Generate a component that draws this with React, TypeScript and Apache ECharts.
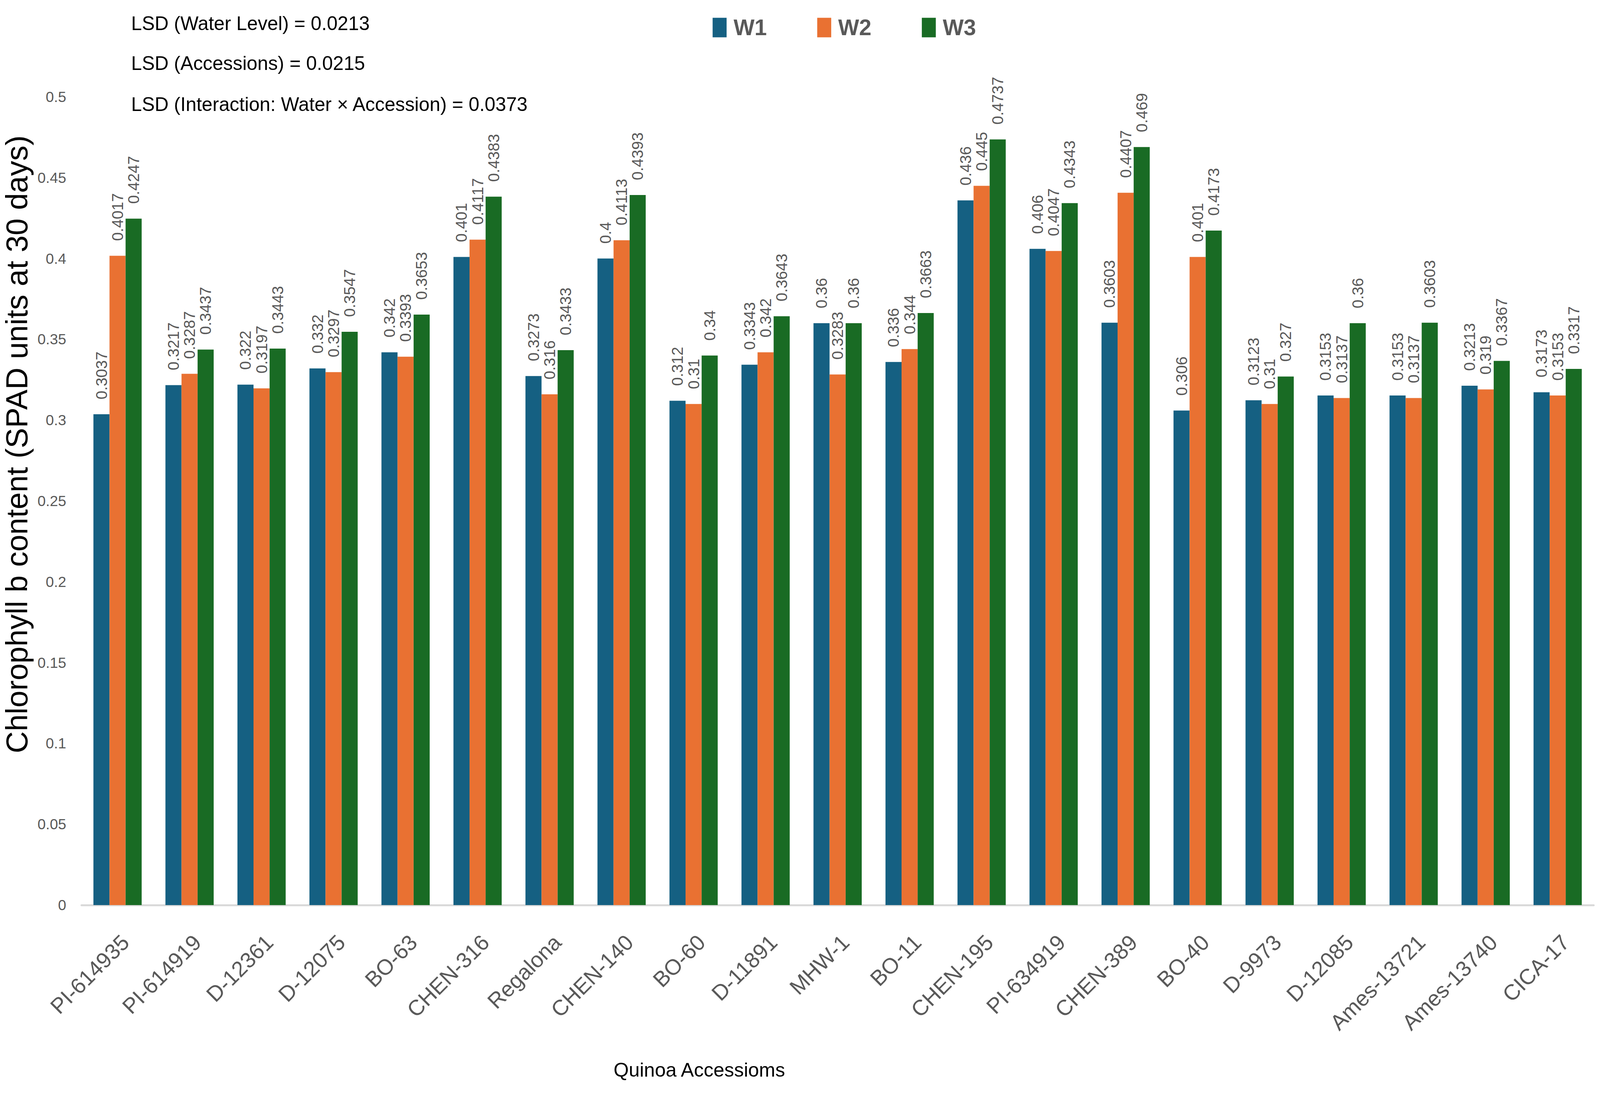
import React, { useEffect, useRef, useState } from "react";
import * as echarts from "echarts";

const categories = [
  "PI-614935", "PI-614919", "D-12361", "D-12075", "BO-63", "CHEN-316", "Regalona",
  "CHEN-140", "BO-60", "D-11891", "MHW-1", "BO-11", "CHEN-195", "PI-634919",
  "CHEN-389", "BO-40", "D-9973", "D-12085", "Ames-13721", "Ames-13740", "CICA-17",
];
const w1 = [0.3037, 0.3217, 0.322, 0.332, 0.342, 0.401, 0.3273, 0.4, 0.312, 0.3343, 0.36, 0.336, 0.436, 0.406, 0.3603, 0.306, 0.3123, 0.3153, 0.3153, 0.3213, 0.3173];
const w2 = [0.4017, 0.3287, 0.3197, 0.3297, 0.3393, 0.4117, 0.316, 0.4113, 0.31, 0.342, 0.3283, 0.344, 0.445, 0.4047, 0.4407, 0.401, 0.31, 0.3137, 0.3137, 0.319, 0.3153];
const w3 = [0.4247, 0.3437, 0.3443, 0.3547, 0.3653, 0.4383, 0.3433, 0.4393, 0.34, 0.3643, 0.36, 0.3663, 0.4737, 0.4343, 0.469, 0.4173, 0.327, 0.36, 0.3603, 0.3367, 0.3317];
const seriesNames = ["W1", "W2", "W3"];
const seriesColors = ["#156082", "#E97132", "#196B24"];
const lsdLines = [
  "LSD (Water Level) = 0.0213",
  "LSD (Accessions) = 0.0215",
  "LSD (Interaction: Water \u00d7 Accession) = 0.0373",
];
const yTitle = "Chlorophyll b content (SPAD units at 30 days)";
const xTitle = "Quinoa Accessioms";

const FONT = "'Liberation Sans', Arial, sans-serif";
const REF_W = 6063;
const REF_H = 2802;

export default function App() {
  const ref = useRef<HTMLDivElement>(null);
  const [size] = useState(() => {
    const w = window.innerWidth || REF_W;
    const h = window.innerHeight || REF_H;
    return { w, h, sx: w / REF_W, sy: h / REF_H };
  });
  useEffect(() => {
    document.body.style.margin = "0";
    document.body.style.overflow = "hidden";
    const { sx, sy } = size;
    const px = (v: number) => v * sx;
    const py = (v: number) => v * sy;
    const fm = (v: number) => v * Math.sqrt(sx * sy);
    const chart = echarts.init(ref.current!, undefined, { renderer: "svg" });
    const data = [w1, w2, w3];
    const lsdY = [59, 161, 266];
    chart.setOption({
      animation: false,
      backgroundColor: "#ffffff",
      textStyle: { fontFamily: FONT },
      grid: { left: px(309), right: px(24), top: py(248), bottom: py(486), containLabel: false },
      legend: {
        data: seriesNames,
        left: px(2693),
        top: py(37),
        icon: "rect",
        itemWidth: px(53),
        itemHeight: py(50),
        itemGap: px(191),
        textStyle: { fontSize: px(84), fontWeight: "bold", color: "#595959", fontFamily: FONT, padding: [0, 0, 0, px(19)] },
      },
      xAxis: {
        type: "category",
        data: categories,
        axisLine: { show: true, lineStyle: { color: "#d9d9d9", width: py(5) } },
        axisTick: { show: false },
        axisLabel: {
          interval: 0,
          rotate: 45,
          fontSize: fm(68),
          color: "#595959",
          margin: py(66),
          verticalAlign: "top",
          fontFamily: FONT,
        },
      },
      yAxis: {
        type: "value",
        min: 0,
        max: 0.5,
        interval: 0.05,
        splitLine: { show: false },
        axisLine: { show: false },
        axisTick: { show: false },
        axisLabel: {
          fontSize: px(56),
          color: "#595959",
          margin: px(58),
          fontFamily: FONT,
          formatter: (v: number) => String(+v.toFixed(2)),
        },
      },
      series: seriesNames.map((name, i) => ({
        name,
        type: "bar",
        data: data[i],
        barGap: "0%",
        barCategoryGap: "33%",
        itemStyle: { color: seriesColors[i] },
        label: {
          show: true,
          position: "top",
          rotate: 90,
          align: "left",
          verticalAlign: "middle",
          distance: py(38),
          fontSize: py(40),
          color: "#595959",
          fontFamily: FONT,
        },
      })),
      graphic: [
        ...lsdLines.map((t, i) => ({
          type: "text",
          x: px(497),
          y: py(lsdY[i]),
          style: { text: t, fill: "#000000", font: `${px(73)}px ${FONT}`, verticalAlign: "middle", align: "left" },
        })),
        {
          type: "text",
          x: px(2650),
          y: py(2738),
          style: { text: xTitle, fill: "#000000", font: `${px(74)}px ${FONT}`, align: "center", verticalAlign: "middle" },
        },
        {
          type: "text",
          x: px(64),
          y: py(1137),
          rotation: Math.PI / 2,
          style: { text: yTitle, fill: "#000000", font: `${py(78)}px ${FONT}`, align: "center", verticalAlign: "middle" },
        },
      ],
    });
    return () => chart.dispose();
  }, [size]);
  return <div ref={ref} style={{ width: size.w, height: size.h, overflow: "hidden" }} />;
}
